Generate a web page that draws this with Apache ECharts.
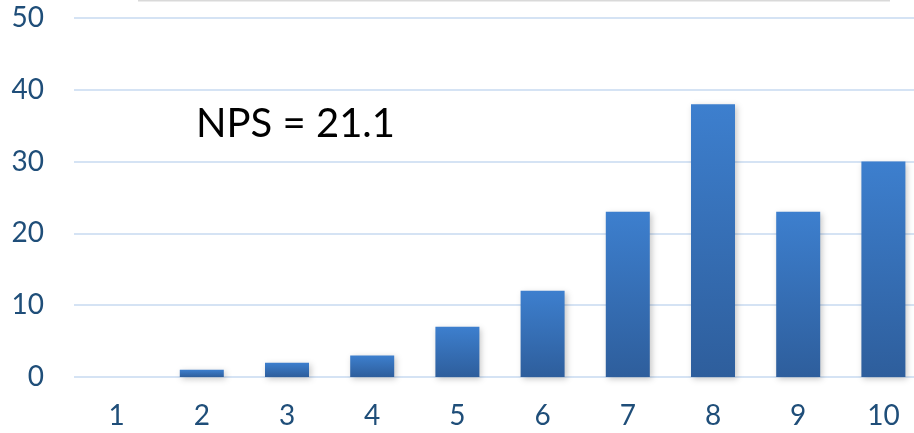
<!DOCTYPE html>
<html>
<head>
<meta charset="utf-8">
<script src="https://cdn.jsdelivr.net/npm/echarts@6/dist/echarts.min.js"></script>
<style>
  html, body { margin: 0; padding: 0; background: #ffffff; }
  #chart { width: 914px; height: 433px; }
</style>
</head>
<body>
<div id="chart"></div>
<script>
// Score categories (1..10)
const scores = ['1', '2', '3', '4', '5', '6', '7', '8', '9', '10'];
// Number of responses per score
const counts = [0, 1, 2, 3, 7, 12, 23, 38, 23, 30];
// Value axis ticks
const yMin = 0;
const yMax = 50;
const yStep = 10;
const npsText = 'NPS = 21.1';

const labelColor = '#1F4E79';
const font = 'Lato, "Open Sans", sans-serif';

const chart = echarts.init(document.getElementById('chart'), null, { renderer: 'canvas' });

chart.setOption({
  animation: false,
  backgroundColor: '#ffffff',
  // plot area runs slightly past the right edge of the canvas
  grid: {
    left: 74, width: 852, top: 18, bottom: 56,
    containLabel: false,
    outerBoundsMode: 'none'
  },
  xAxis: {
    type: 'category',
    data: scores,
    axisLine: { show: false },
    axisTick: { show: false },
    axisLabel: { color: labelColor, fontSize: 28, fontFamily: font, margin: 25 },
    splitLine: { show: false }
  },
  yAxis: {
    type: 'value',
    min: yMin,
    max: yMax,
    interval: yStep,
    axisLine: { show: false },
    axisTick: { show: false },
    axisLabel: { color: labelColor, fontSize: 28, fontFamily: font, margin: 30 },
    splitLine: { lineStyle: { color: '#D5E3F4', width: 2 } }
  },
  series: [{
    type: 'bar',
    data: counts,
    barWidth: 44,
    itemStyle: {
      color: new echarts.graphic.LinearGradient(0, 0, 0, 1, [
        { offset: 0, color: '#3D7FCE' },
        { offset: 1, color: '#2E5E9C' }
      ]),
      shadowColor: 'rgba(0,0,0,0.22)',
      shadowBlur: 6,
      shadowOffsetX: 2,
      shadowOffsetY: 2
    }
  }],
  graphic: [
    {
      type: 'line',
      shape: { x1: 138, y1: 0.5, x2: 890, y2: 0.5 },
      style: { stroke: '#D9D9D9', lineWidth: 2 }
    },
    {
      type: 'text',
      left: 196,
      top: 104,
      style: { text: npsText, fill: '#000000', font: '40px ' + font }
    }
  ]
});
</script>
</body>
</html>
